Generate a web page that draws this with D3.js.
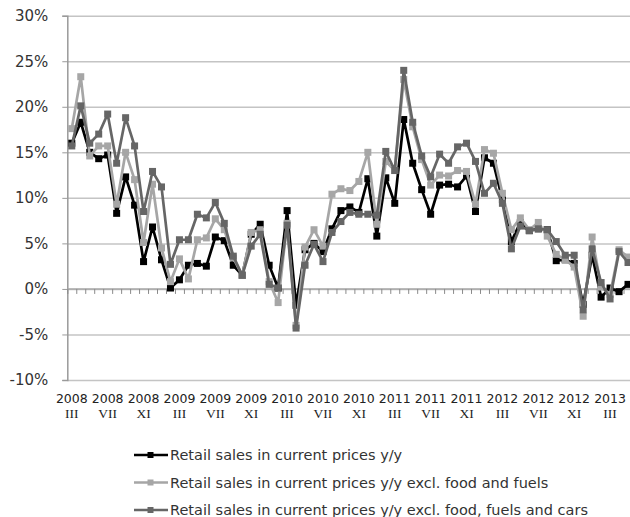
<!DOCTYPE html>
<html><head><meta charset="utf-8">
<script src="https://cdn.jsdelivr.net/npm/d3@7"></script>
<style>body{margin:0;background:#fff;} svg{display:block;}</style>
</head><body>
<svg id="chart" width="630" height="517"></svg>
<script>
const categories = [
 "2008 III","2008 IV","2008 V","2008 VI","2008 VII","2008 VIII","2008 IX","2008 X","2008 XI","2008 XII",
 "2009 I","2009 II","2009 III","2009 IV","2009 V","2009 VI","2009 VII","2009 VIII","2009 IX","2009 X","2009 XI","2009 XII",
 "2010 I","2010 II","2010 III","2010 IV","2010 V","2010 VI","2010 VII","2010 VIII","2010 IX","2010 X","2010 XI","2010 XII",
 "2011 I","2011 II","2011 III","2011 IV","2011 V","2011 VI","2011 VII","2011 VIII","2011 IX","2011 X","2011 XI","2011 XII",
 "2012 I","2012 II","2012 III","2012 IV","2012 V","2012 VI","2012 VII","2012 VIII","2012 IX","2012 X","2012 XI","2012 XII",
 "2013 I","2013 II","2013 III","2013 IV","2013 V"];
const yTicks = [-10,-5,0,5,10,15,20,25,30];
const retailTotal = [16.0,18.3,15.0,14.3,14.7,8.3,12.3,9.2,3.0,6.8,
 3.2,0.1,1.0,2.6,2.8,2.5,5.7,5.3,2.6,1.5,
 6.0,7.1,2.6,0.1,8.6,-1.8,4.3,5.0,4.1,6.6,
 8.6,9.0,8.4,12.1,5.8,12.2,9.4,18.6,13.8,10.9,
 8.2,11.4,11.5,11.2,12.4,8.5,14.4,13.8,9.8,5.2,
 7.3,6.4,6.6,6.5,3.1,3.2,2.8,-1.7,3.7,-0.9,
 0.1,-0.3,0.5];
const retailExFoodFuels = [17.6,23.3,14.6,15.7,15.7,9.3,15.0,12.0,5.1,11.5,
 4.5,0.8,3.3,1.1,5.4,5.6,7.7,6.5,3.4,1.5,
 6.2,6.5,0.8,-1.5,7.2,-4.0,4.6,6.5,4.7,10.4,
 11.0,10.8,11.8,15.0,7.1,14.0,13.0,23.0,17.8,14.2,
 11.4,12.5,12.4,13.0,12.9,9.3,15.3,14.9,10.5,6.5,
 7.8,6.5,7.3,5.8,3.8,3.2,2.4,-3.0,5.7,0.2,
 -0.6,4.3,3.5];
const retailExFoodFuelsCars = [15.7,20.1,16.0,17.0,19.2,13.8,18.8,15.7,8.5,12.9,
 11.2,2.7,5.4,5.4,8.2,7.8,9.5,7.2,3.6,1.5,
 4.7,6.0,0.5,0.1,7.0,-4.3,2.6,4.9,3.0,6.2,
 7.4,8.4,8.2,8.2,8.1,15.1,13.0,24.0,18.3,14.6,
 12.3,14.8,13.8,15.6,16.0,14.0,10.5,11.6,9.4,4.4,
 6.9,6.4,6.6,6.5,5.2,3.7,3.7,-2.3,4.4,0.7,
 -1.1,4.1,2.9];
const seriesNames = ["Retail sales in current prices y/y",
 "Retail sales in current prices y/y excl. food and fuels",
 "Retail sales in current prices y/y excl. food, fuels and cars"];
const seriesColors = ["#000000","#a6a6a6","#666666"];

const series = [retailTotal, retailExFoodFuels, retailExFoodFuelsCars];
const svg = d3.select("#chart");
const mLeft = 67.3, mRight = 632.5, mTop = 15.7, mBottom = 380, W = 630;
const x = d3.scaleBand().domain(categories).range([mLeft, mRight]);
const bw = x.bandwidth();
const cx = c => x(c) + bw / 2;
const y = d3.scaleLinear().domain([-10, 30]).range([mBottom, mTop]);

// gridlines
const grid = svg.append("g").attr("transform", `translate(${mLeft},0)`)
  .call(d3.axisLeft(y).tickValues(yTicks).tickSize(-(W - mLeft)).tickFormat(""));
grid.select(".domain").remove();
grid.selectAll("line").attr("stroke", "#c4c4c4").attr("stroke-width", 1.5);

// y axis with labels
const ya = svg.append("g").attr("transform", `translate(${mLeft},0)`)
  .call(d3.axisLeft(y).tickValues(yTicks).tickSize(5).tickPadding(14).tickFormat(d => d + "%"));
ya.select(".domain").attr("stroke", "#9a9a9a").attr("stroke-width", 1.5);
ya.selectAll(".tick line").attr("stroke", "#9a9a9a");
ya.selectAll("text").attr("font-family", "DejaVu Sans").attr("font-size", 15).attr("fill", "#333");

// category axis at zero with tick marks at boundaries
const zeroY = y(0);
svg.append("line").attr("x1", mLeft).attr("x2", W).attr("y1", zeroY).attr("y2", zeroY)
  .attr("stroke", "#a8a8a8").attr("stroke-width", 1.5);
svg.append("g").selectAll("line").data(categories).join("line")
  .attr("x1", d => x(d) + 0.5).attr("x2", d => x(d) + 0.5)
  .attr("y1", zeroY).attr("y2", zeroY + 5)
  .attr("stroke", "#8a8a8a").attr("stroke-width", 1);

// x labels
const labelCats = categories.filter((c, i) => i % 4 === 0);
const xl = svg.append("g").selectAll("text").data(labelCats).join("text")
  .attr("x", d => cx(d)).attr("text-anchor", "middle").attr("fill", "#222");
xl.append("tspan").attr("x", d => cx(d)).attr("y", 403)
  .attr("font-family", "DejaVu Sans").attr("font-size", 12.5).text(d => d.split(" ")[0]);
xl.append("tspan").attr("x", d => cx(d)).attr("y", 418)
  .attr("font-family", "Liberation Serif").attr("font-size", 13.5).text(d => d.split(" ")[1]);

// series lines & markers
const line = d3.line().x((v, i) => cx(categories[i])).y(v => y(v));
series.forEach((vals, s) => {
  const g = svg.append("g");
  g.append("path").datum(vals).attr("d", line).attr("fill", "none")
    .attr("stroke", seriesColors[s]).attr("stroke-width", 2.7).attr("stroke-linejoin", "round");
  g.selectAll("rect").data(vals).join("rect")
    .attr("x", (v, i) => cx(categories[i]) - 3.5).attr("y", v => y(v) - 3.5)
    .attr("width", 7).attr("height", 7).attr("fill", seriesColors[s]);
});

// legend
const lg = svg.append("g").selectAll("g").data(seriesNames).join("g")
  .attr("transform", (d, i) => `translate(0,${455 + i * 27.5})`);
lg.append("line").attr("x1", 134).attr("x2", 168).attr("y1", 0).attr("y2", 0)
  .attr("stroke", (d, i) => seriesColors[i]).attr("stroke-width", 2.7);
lg.append("rect").attr("x", 147.5).attr("y", -3).attr("width", 6).attr("height", 6)
  .attr("fill", (d, i) => seriesColors[i]);
lg.append("text").attr("x", 170).attr("y", 5).attr("font-family", "DejaVu Sans")
  .attr("font-size", 14.5).attr("fill", "#333").text(d => d);
</script>
</body></html>
